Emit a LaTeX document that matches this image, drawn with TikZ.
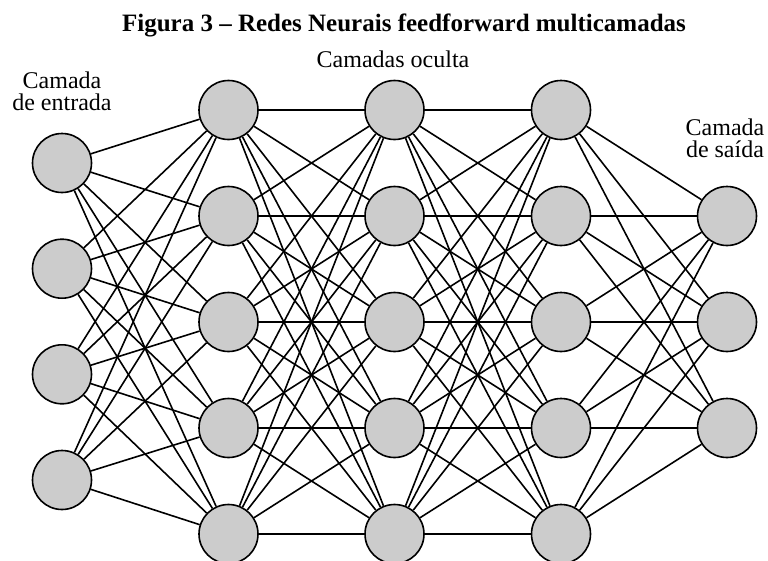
\documentclass[tikz,border=0pt]{standalone}
\usepackage{fontspec}
\setmainfont{Liberation Serif}
\usepackage{tikz}
\usepackage{xcolor}

\tikzset{
  neuron/.style={draw, circle, fill=gray!40, minimum size=59pt, inner sep=0pt, line width=1.6pt},
  layertext/.style={align=center, font=\fontsize{24}{22}\selectfont}
}

\begin{document}
\begin{tikzpicture}[x=1pt, y=-1pt, line width=1.6pt]
  \useasboundingbox (0,0) rectangle (768,560);

  % Title
  \node[anchor=base, font=\bfseries\fontsize{25}{30}\selectfont] (title) at (404,31) {Figura 3 -- Redes Neurais feedforward multicamadas};

  % Input layer
  \foreach \i/\y in {1/163, 2/268.7, 3/374.3, 4/480}
    \node[neuron] (in\i) at (62,\y) {};

  % Hidden layers
  \foreach \j/\y in {1/110, 2/216, 3/322, 4/428, 5/534}{
    \node[neuron] (ha\j) at (228.5,\y) {};
    \node[neuron] (hb\j) at (394.5,\y) {};
    \node[neuron] (hc\j) at (561,\y) {};
  }

  % Output layer
  \foreach \k/\y in {1/216, 2/322, 3/428}
    \node[neuron] (out\k) at (727,\y) {};

  % Connections between the layers
  \foreach \i in {1,...,4}
    \foreach \j in {1,...,5}
      \draw (in\i) -- (ha\j);
  \foreach \i in {1,...,5}
    \foreach \j in {1,...,5}{
      \draw (ha\i) -- (hb\j);
      \draw (hb\i) -- (hc\j);
    }
  \foreach \i in {1,...,5}
    \foreach \k in {1,...,3}
      \draw (hc\i) -- (out\k);

  % Layer labels (base = last line)
  \node[layertext, anchor=base] (lblin) at (62,110) {Camada\\de entrada};
  \node[layertext, anchor=base] (lblhid) at (393,67) {Camadas oculta};
  \node[layertext, anchor=base] (lblout) at (725,157) {Camada\\de saída};

\end{tikzpicture}
\end{document}
